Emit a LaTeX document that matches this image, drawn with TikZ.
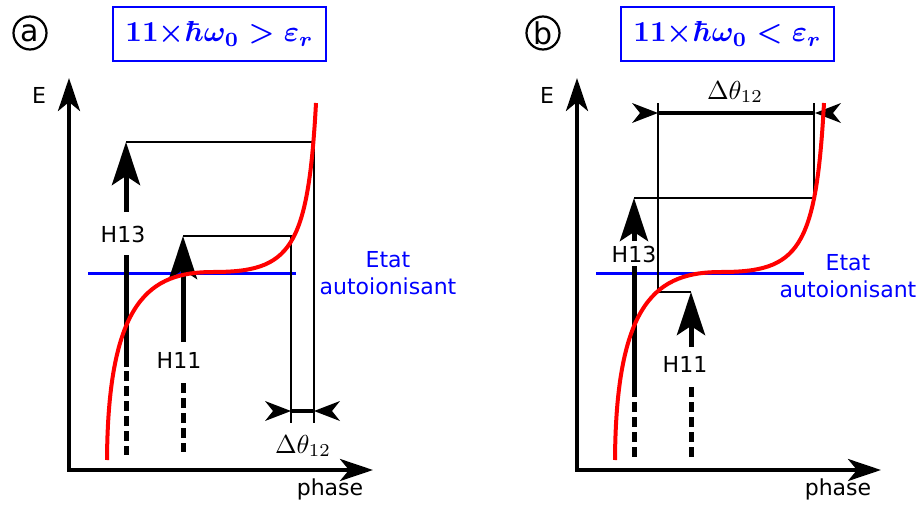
\documentclass[tikz,border=0pt]{standalone}
\usepackage[no-math]{fontspec}
\setmainfont{DejaVu Sans}
\usetikzlibrary{arrows.meta}
\newcommand{\condtext}[1]{\scalebox{2.9}{\boldmath$#1$}}
\newcommand{\dtheta}{\scalebox{2.6}{$\Delta\theta_{12}$}}
\begin{document}
\begin{tikzpicture}[x=1pt,y=-1pt,
  axis/.style={line width=4pt, {Stealth[length=33pt,width=22pt,inset=9pt]}-{Stealth[length=33pt,width=22pt,inset=9pt]}},
  harrow/.style={line width=5pt, -{Stealth[length=43pt,width=28pt,inset=9pt]}},
  hdash/.style={line width=5pt, dash pattern=on 10pt off 5pt},
  hsolid/.style={line width=5pt},
  guide/.style={line width=1.3pt},
  level/.style={blue, line width=3pt},
  curve/.style={red, line width=4pt},
  dhead/.style={fill=black},
  dbar/.style={line width=4pt},
  lbl/.style={font=\fontsize{22}{27}\selectfont, inner sep=0pt},
  cond/.style={draw=blue, text=blue, line width=2pt, minimum width=213pt, minimum height=54pt, inner sep=0pt},
  tag/.style={circle, draw, line width=2.2pt, minimum size=33pt, inner sep=0pt, font=\fontsize{30}{32}\selectfont},
  dlbl/.style={inner sep=0pt},
  state/.style={text=blue, align=center, font=\fontsize{22}{27}\selectfont, inner sep=0pt}
]
\useasboundingbox (0,0) rectangle (922,506);

% ================= Panel (a) =================
\node[tag] (taga) at (30,33) {a};
\node[cond] (conda) at (219.5,34) {\condtext{11{\times}\hbar\omega_0>\varepsilon_r}};

\coordinate (aO) at (69,470);
\coordinate (aEy) at (69,78);
\coordinate (aEx) at (373,470);
\node[lbl] (aE) at (39,95) {E};
\node[lbl] (aph) at (330,489) {phase};

\coordinate (aL1) at (88,273);
\coordinate (aL2) at (296,273);
\draw[level] (aL1) -- (aL2);
\node[state] (astate) at (388,273) {Etat\\autoionisant};

\coordinate (aT13) at (126,142);
\coordinate (aC13) at (314,142);
\coordinate (aB13) at (314,423);
\coordinate (aT11) at (183,236);
\coordinate (aC11) at (291,236);
\coordinate (aB11) at (291,423);
\draw[guide] (aT13) -- (aC13) -- (aB13);
\draw[guide] (aT11) -- (aC11) -- (aB11);

\coordinate (aS13a) at (126,212);
\coordinate (aS13b) at (126,255);
\coordinate (aS13c) at (126,367);
\coordinate (aS13d) at (126,371);
\coordinate (aS13e) at (126,455);
\draw[harrow] (aS13a) -- (aT13);
\draw[hsolid] (aS13b) -- (aS13c);
\draw[hdash] (aS13d) -- (aS13e);
\node[lbl] (aH13) at (123,234) {H13};

\coordinate (aS11a) at (183,342);
\coordinate (aS11b) at (183,383);
\coordinate (aS11c) at (183,452);
\draw[harrow] (aS11a) -- (aT11);
\draw[hdash] (aS11b) -- (aS11c);
\node[lbl] (aH11) at (179,360) {H11};

\coordinate (aDL) at (291,411);
\coordinate (aDR) at (314,411);
\draw[dbar] (aDL) -- (aDR);
\fill[dhead] (aDL) -- ++(-26,-10) -- ++(8,10) -- ++(-8,10) -- cycle;
\fill[dhead] (aDR) -- ++(26,-10) -- ++(-8,10) -- ++(8,10) -- cycle;
\node[dlbl] (adt) at (303,446) {\dtheta};

\draw[axis] (aEy) -- (aO) -- (aEx);
\draw[curve] (107,460) .. controls (108,300) and (150,272) .. (213,272)
  .. controls (290,272) and (308,250) .. (316,103);

% ================= Panel (b) =================
\node[tag] (tagb) at (543,33) {b};
\node[cond] (condb) at (727.5,34) {\condtext{11{\times}\hbar\omega_0<\varepsilon_r}};

\coordinate (bO) at (577,470);
\coordinate (bEy) at (577,78);
\coordinate (bEx) at (881,470);
\node[lbl] (bE) at (547,95) {E};
\node[lbl] (bph) at (838,489) {phase};

\coordinate (bL1) at (596,273);
\coordinate (bL2) at (804,273);
\draw[level] (bL1) -- (bL2);
\node[state] (bstate) at (848,276) {Etat\\autoionisant};

\coordinate (bT13) at (634,198);
\coordinate (bC13) at (814,198);
\coordinate (bU13) at (814,103);
\coordinate (bU11) at (658,103);
\coordinate (bC11) at (658,292);
\coordinate (bT11) at (691,292);
\draw[guide] (bT13) -- (bC13) -- (bU13);
\draw[guide] (bU11) -- (bC11) -- (bT11);

\coordinate (bS13a) at (634,241);
\coordinate (bS13b) at (634,266);
\coordinate (bS13c) at (634,397);
\coordinate (bS13d) at (634,402);
\coordinate (bS13e) at (634,460);
\draw[harrow] (bS13a) -- (bT13);
\draw[hsolid] (bS13b) -- (bS13c);
\draw[hdash] (bS13d) -- (bS13e);
\node[lbl] (bH13) at (634,254) {H13};

\coordinate (bS11a) at (691,347);
\coordinate (bS11b) at (691,387);
\coordinate (bS11c) at (691,457);
\draw[harrow] (bS11a) -- (bT11);
\draw[hdash] (bS11b) -- (bS11c);
\node[lbl] (bH11) at (685,364) {H11};

\coordinate (bDL) at (658,113);
\coordinate (bDR) at (815,113);
\draw[dbar] (bDL) -- (bDR);
\fill[dhead] (bDL) -- ++(-26,-10) -- ++(8,10) -- ++(-8,10) -- cycle;
\fill[dhead] (bDR) -- ++(26,-10) -- ++(-8,10) -- ++(8,10) -- cycle;
\node[dlbl] (bdt) at (735,92) {\dtheta};

\draw[axis] (bEy) -- (bO) -- (bEx);
\draw[curve] (615,460) .. controls (616,300) and (658,272) .. (721,272)
  .. controls (798,272) and (816,250) .. (824,103);
\end{tikzpicture}
\end{document}
